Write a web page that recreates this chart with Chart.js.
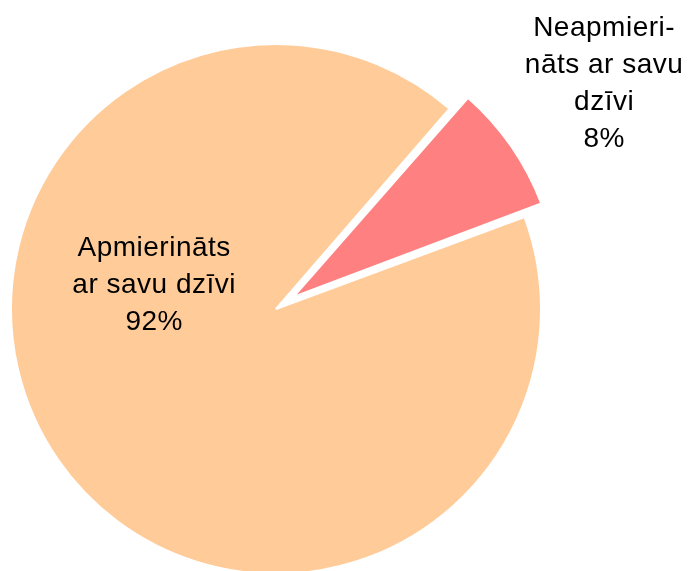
<!DOCTYPE html>
<html>
<head>
<meta charset="utf-8">
<script src="https://cdn.jsdelivr.net/npm/chart.js@4.4.0/dist/chart.umd.min.js"></script>
<style>
	body{margin:0;background:#fff;}
	#wrap{width:688px;height:571px;position:relative;}
</style>
</head>
<body>
<div id="wrap"><canvas id="pieChart"></canvas></div>
<script>
const categories = ['Apmierināts ar savu dzīvi', 'Neapmierināts ar savu dzīvi'];
const values = [92, 8];
const labelLines = [['Apmierināts', 'ar savu dzīvi'], ['Neapmieri-', 'nāts ar savu', 'dzīvi']];
const sliceColors = ['#FFCC99', '#FF8080'];
const explode = [0, 84];

// where each label sits: angle from top (null = middle of slice), distance as part of radius
const labelPlace = [{angle: 282, dist: 0.47}, {angle: null, dist: 1.506}];

// keep exploded slice the same size as the rest
const keepRadius = {
	id: 'keepRadius',
	afterDatasetsUpdate(chart){
		chart.getDatasetMeta(0).data.forEach((arc)=>{
			const off = (arc.options.offset || 0) / 4;
			if(!off) return;
			const fix = 1 - Math.sin(Math.min(Math.PI, arc.circumference));
			arc.outerRadius = arc.outerRadius - off * fix;
		});
	}
};

const sliceLabels = {
	id: 'sliceLabels',
	afterDraw(chart){
		const ctx = chart.ctx;
		const meta = chart.getDatasetMeta(0);
		const total = values.reduce((a,b)=>a+b,0);
		const R = meta.data[0].outerRadius;
		ctx.save();
		ctx.font = '28px "Liberation Sans", Arial, sans-serif';
		ctx.letterSpacing = '0.5px';
		ctx.fillStyle = '#000';
		ctx.textAlign = 'center';
		ctx.textBaseline = 'alphabetic';
		meta.data.forEach((arc,i)=>{
			const p = labelPlace[i];
			let a = p.angle === null ? (arc.startAngle + arc.endAngle) / 2 : (p.angle - 90) * Math.PI / 180;
			const cx = arc.x + Math.cos(a) * R * p.dist;
			const cy = arc.y + Math.sin(a) * R * p.dist;
			const lines = labelLines[i].concat([Math.round(values[i] / total * 100) + '%']);
			const lh = 37;
			lines.forEach((t,j)=>{
				ctx.fillText(t, cx, cy + (j - (lines.length - 1) / 2) * lh + 10);
			});
		});
		ctx.restore();
	}
};

const pie = new Chart(document.querySelector('#pieChart').getContext('2d'), {
	type: 'pie',
	data: {
		labels: categories,
		datasets: [{
			data: values,
			backgroundColor: sliceColors,
			borderColor: '#ffffff',
			borderWidth: 2,
			offset: explode,
			hoverOffset: 0,
			clip: false
		}]
	},
	options: {
		responsive: true,
		maintainAspectRatio: false,
		animation: false,
		rotation: 69.7,
		radius: 265,
		layout: {padding: {left: 0, right: 136, top: 47, bottom: 0}},
		plugins: {
			legend: {display: false},
			tooltip: {enabled: false}
		},
		events: []
	},
	plugins: [keepRadius, sliceLabels]
});
</script>
</body>
</html>
